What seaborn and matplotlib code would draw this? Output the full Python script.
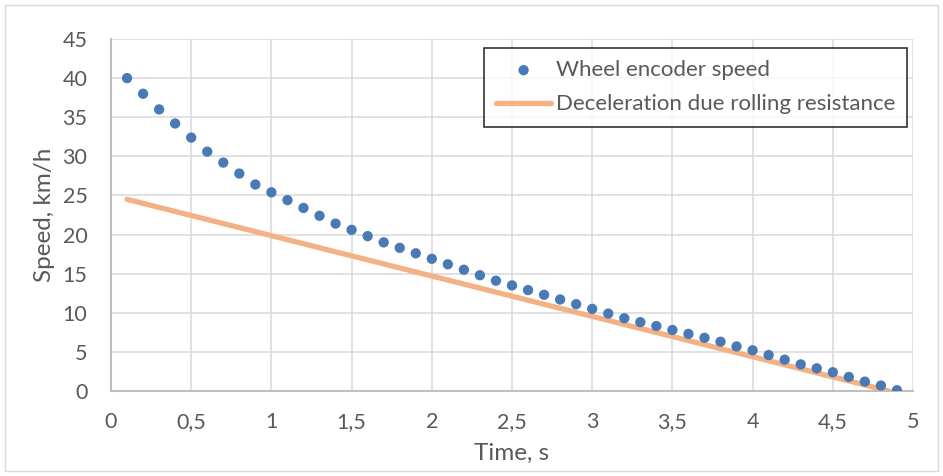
import pandas as pd
from matplotlib import pyplot as plt
import seaborn as sns

# wheel encoder samples, one every 0.1 s
time_s = [round(0.1 * i, 1) for i in range(1, 50)]
encoder_speed = [
    40.0, 38.0, 36.0, 34.2, 32.4, 30.6, 29.2, 27.8, 26.4, 25.4,
    24.4, 23.4, 22.4, 21.4, 20.6, 19.8, 19.0, 18.3, 17.6, 16.9,
    16.2, 15.5, 14.8, 14.1, 13.5, 12.9, 12.3, 11.7, 11.1, 10.5,
    9.9, 9.3, 8.8, 8.3, 7.8, 7.3, 6.8, 6.3, 5.7, 5.2,
    4.6, 4.0, 3.4, 2.9, 2.4, 1.8, 1.2, 0.7, 0.1,
]

# rolling resistance model line
model_time = [0.1, 4.85]
model_speed = [24.5, 0.0]

df_enc = pd.DataFrame({"time": time_s, "speed": encoder_speed})
df_model = pd.DataFrame({"time": model_time, "speed": model_speed})

sns.set_theme(style="white")
plt.rcParams["font.family"] = ["Lato", "DejaVu Sans"]
text_col = "#595959"

fig = plt.figure(figsize=(9.43, 4.76), dpi=100)
ax = fig.add_axes([111 / 943, 1 - 391 / 476, 802 / 943, 352 / 476])

sns.scatterplot(
    data=df_enc, x="time", y="speed", ax=ax,
    color="#4a7ab5", s=55, edgecolor="none", label="Wheel encoder speed", zorder=3,
)
sns.lineplot(
    data=df_model, x="time", y="speed", ax=ax,
    color="#f4b183", linewidth=3.8, label="Deceleration due rolling resistance", zorder=2,
)

ax.set_xlim(0, 5)
ax.set_ylim(0, 45)
ax.set_xticks([0, 0.5, 1, 1.5, 2, 2.5, 3, 3.5, 4, 4.5, 5])
ax.set_xticklabels(["0", "0,5", "1", "1,5", "2", "2,5", "3", "3,5", "4", "4,5", "5"])
ax.set_yticks(range(0, 46, 5))
ax.grid(True, color="#d9d9d9", linewidth=1.1)
ax.set_axisbelow(True)
for side in ["top", "right"]:
    ax.spines[side].set_visible(False)
for side in ["left", "bottom"]:
    ax.spines[side].set_color("#bfbfbf")
    ax.spines[side].set_linewidth(1.5)
ax.tick_params(axis="both", colors=text_col, labelsize=15.5, length=0)
ax.tick_params(axis="x", pad=15)
ax.tick_params(axis="y", pad=17)
ax.set_xlabel("Time, s", color=text_col, fontsize=17.5, labelpad=8)
ax.set_ylabel("Speed, km/h", color=text_col, fontsize=17.5, labelpad=5)

leg = ax.legend(
    loc="upper right", bbox_to_anchor=(0.993, 0.975), fontsize=16,
    frameon=True, fancybox=False, edgecolor="black", borderpad=0.55,
    handlelength=2.5, handletextpad=0.2, labelspacing=0.65, borderaxespad=0,
)
leg.get_frame().set_linewidth(1.2)
for t in leg.get_texts():
    t.set_color(text_col)

# outer chart border
fig.patches.append(plt.Rectangle((5 / 943, 5 / 476), 933 / 943, 466 / 476,
                                 transform=fig.transFigure, fill=False,
                                 edgecolor="#d9d9d9", linewidth=1))

plt.savefig("out.png", dpi=100)
